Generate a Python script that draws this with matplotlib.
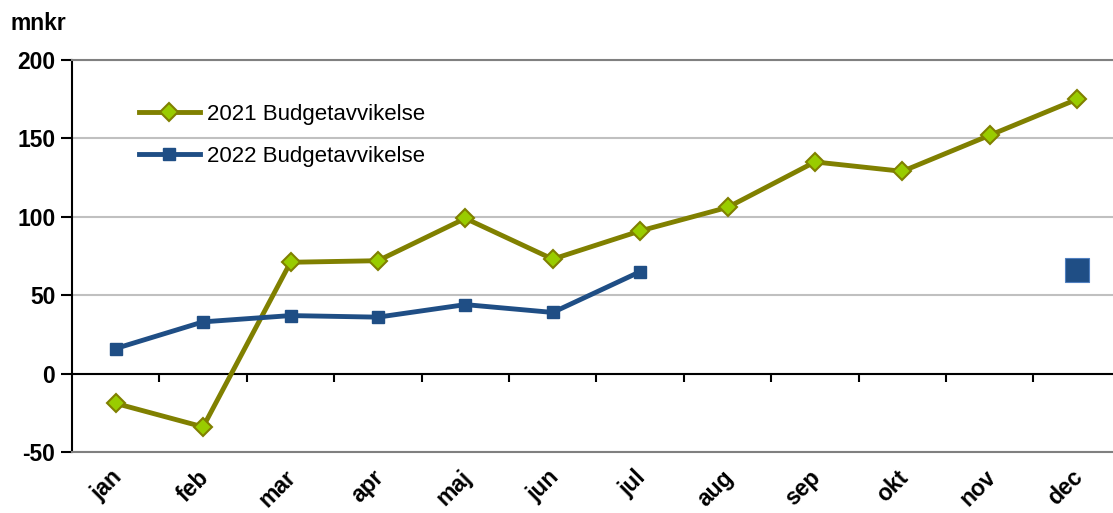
import numpy as np
import matplotlib.pyplot as plt

plt.rcParams['font.family'] = ['Liberation Sans', 'DejaVu Sans']
plt.rcParams['axes.unicode_minus'] = False

# Data
months = ["jan", "feb", "mar", "apr", "maj", "jun", "jul", "aug", "sep", "okt", "nov", "dec"]
avv_2021 = [-19, -34, 71, 72, 99, 73, 91, 106, 135, 129, 152, 175]
avv_2022 = [16, 33, 37, 36, 44, 39, 65]
prognos_2022_dec = 66

olive = "#808000"
olive_face = "#99CC00"
blue = "#1F4E85"

fig = plt.figure(figsize=(11.13, 5.13), dpi=100)
ax = fig.add_axes([72 / 1113, 61 / 513, (1113 - 72) / 1113, 392 / 513])

x = np.arange(len(months))

ax.plot(x, avv_2021, color=olive, lw=3.5, marker="D", ms=9,
        mfc=olive_face, mec=olive, mew=1.5, label="2021 Budgetavvikelse", zorder=4)
ax.plot(x[:len(avv_2022)], avv_2022, color=blue, lw=3.5, marker="s", ms=8,
        mfc=blue, mec=blue, label="2022 Budgetavvikelse", zorder=5)
ax.plot([x[-1]], [prognos_2022_dec], linestyle="none", marker="s", ms=17,
        mfc=blue, mec="#4F7FBF", mew=0.8, zorder=5)

ax.set_ylim(-50, 200)
ax.set_xlim(-0.5, 11.41)
ax.set_yticks([-50, 0, 50, 100, 150, 200])
ax.yaxis.grid(True, color="#C0C0C0", lw=1.5)
ax.set_axisbelow(True)
ax.axhline(0, color="black", lw=1.5, zorder=2)

# axis styling
ax.spines["right"].set_visible(False)
ax.spines["top"].set_color("#808080")
ax.spines["top"].set_linewidth(1.5)
ax.spines["bottom"].set_color("#808080")
ax.spines["bottom"].set_linewidth(1.5)
ax.spines["left"].set_color("black")
ax.spines["left"].set_linewidth(1.5)
ax.tick_params(axis="y", length=8, width=1.5, direction="out", labelsize=16.5, pad=4)
for lbl in ax.get_yticklabels():
    lbl.set_fontweight("bold")

ax.set_xticks(x + 0.12)
ax.set_xticklabels(months, rotation=45, ha="right", fontsize=16.5, fontweight="bold")
ax.tick_params(axis="x", length=0, pad=10)

# category-boundary ticks on the zero line
zero = ax.secondary_xaxis(0.2)
zero.set_xticks(np.arange(0.5, 11.5, 1.0))
zero.tick_params(axis="x", length=6, width=1.5, direction="out", labelbottom=False, color="black")
zero.spines["bottom"].set_visible(False)

leg = ax.legend(loc="upper left", bbox_to_anchor=(0.045, 0.94), frameon=False,
                fontsize=16, handlelength=2.75, handletextpad=0.3, labelspacing=0.95)

fig.text(10 / 1113, 1 - 30 / 513, "mnkr", fontsize=16.5, fontweight="bold", va="baseline")

fig.savefig("out.png", dpi=100)
